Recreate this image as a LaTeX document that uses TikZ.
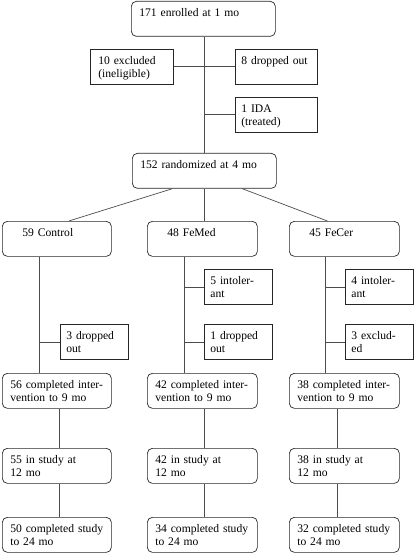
\documentclass[tikz,border=0pt]{standalone}
\usepackage{fontspec}
\setmainfont{Liberation Serif}
\usetikzlibrary{positioning}

\tikzset{
  box/.style={draw=black!85, line width=0.7pt, anchor=north west, align=left,
    inner xsep=8pt, inner ysep=6pt, text height=9.5pt, text depth=13.5pt,
    font=\fontsize{11.6}{13}\selectfont},
  rbox/.style={box, rounded corners=5pt, text width=#1},
  sidebox/.style={box, inner xsep=6pt, text width=56pt},
  armbox/.style={rbox=#1, inner xsep=20pt},
  link/.style={draw=black!70, line width=0.7pt}
}

\begin{document}
\begin{tikzpicture}[x=1pt, y=-1pt]
  \useasboundingbox (0,0) rectangle (415,553);

  % Enrolment
  \node[rbox=128pt] (enrol) at (131,1) {171 enrolled at 1 mo};
  \node[box, text width=67pt] (excl) at (90,49) {10 excluded\\(ineligible)};
  \node[box, inner xsep=6pt, text width=70pt] (drop) at (235,49) {8 dropped out};
  \node[box, inner xsep=6pt, text width=70pt] (ida) at (235,97) {1 IDA\\(treated)};
  \node[rbox=128pt] (rand) at (132,153) {152 randomized at 4 mo};

  \draw[link] (enrol.south -| rand.north) -- (rand.north);
  \draw[link] (excl.east) -- (drop.west);
  \draw[link] (ida.west) -- (ida.west -| rand.north);

  % Arms
  \node[armbox=69pt] (ctl) at (2,221) {59 Control};
  \node[armbox=70pt] (fem) at (147,221) {48 FeMed};
  \node[armbox=70pt] (fec) at (289,221) {45 FeCer};

  \draw[link] ([xshift=-32pt]rand.south) -- ([xshift=12pt]ctl.north);
  \draw[link] (rand.south) -- (rand.south |- fem.north);
  \draw[link] ([xshift=38pt]rand.south) -- ([xshift=-17pt]fec.north);

  % Losses during intervention
  \node[sidebox] (ctldrop) at (60,324) {3 dropped\\out};
  \node[sidebox] (femint) at (204,269) {5 intoler-\\ant};
  \node[sidebox] (femdrop) at (204,324) {1 dropped\\out};
  \node[sidebox] (fecint) at (345,269) {4 intoler-\\ant};
  \node[sidebox] (fecexcl) at (345,324) {3 exclud-\\ed};

  % Completed intervention
  \node[rbox=93pt] (ctlnine) at (2,373) {56 completed inter-\\vention to 9 mo};
  \node[rbox=94pt] (femnine) at (147,373) {42 completed inter-\\vention to 9 mo};
  \node[rbox=94pt] (fecnine) at (289,373) {38 completed inter-\\vention to 9 mo};

  \draw[link] ([xshift=37pt]ctl.south west) -- ([xshift=37pt]ctlnine.north west);
  \draw[link] ([xshift=37pt]fem.south west) -- ([xshift=37pt]femnine.north west);
  \draw[link] ([xshift=36pt]fec.south west) -- ([xshift=36pt]fecnine.north west);
  \draw[link] (ctldrop.west) -- ++(-21,0);
  \draw[link] (femint.west) -- ++(-20,0);
  \draw[link] (femdrop.west) -- ++(-20,0);
  \draw[link] (fecint.west) -- ++(-20,0);
  \draw[link] (fecexcl.west) -- ++(-20,0);

  % Follow-up
  \node[rbox=93pt] (ctltwelve) at (2,448) {55 in study at\\12 mo};
  \node[rbox=94pt] (femtwelve) at (147,448) {42 in study at\\12 mo};
  \node[rbox=94pt] (fectwelve) at (289,448) {38 in study at\\12 mo};
  \node[rbox=93pt] (ctlend) at (2,517) {50 completed study\\to 24 mo};
  \node[rbox=94pt] (femend) at (147,517) {34 completed study\\to 24 mo};
  \node[rbox=94pt] (fecend) at (289,517) {32 completed study\\to 24 mo};

  \draw[link] ([xshift=57pt]ctlnine.south west) -- ([xshift=57pt]ctltwelve.north west);
  \draw[link] ([xshift=57pt]femnine.south west) -- ([xshift=57pt]femtwelve.north west);
  \draw[link] ([xshift=48pt]fecnine.south west) -- ([xshift=48pt]fectwelve.north west);
  \draw[link] ([xshift=57pt]ctltwelve.south west) -- ([xshift=57pt]ctlend.north west);
  \draw[link] ([xshift=57pt]femtwelve.south west) -- ([xshift=57pt]femend.north west);
  \draw[link] ([xshift=48pt]fectwelve.south west) -- ([xshift=48pt]fecend.north west);

\end{tikzpicture}
\end{document}
